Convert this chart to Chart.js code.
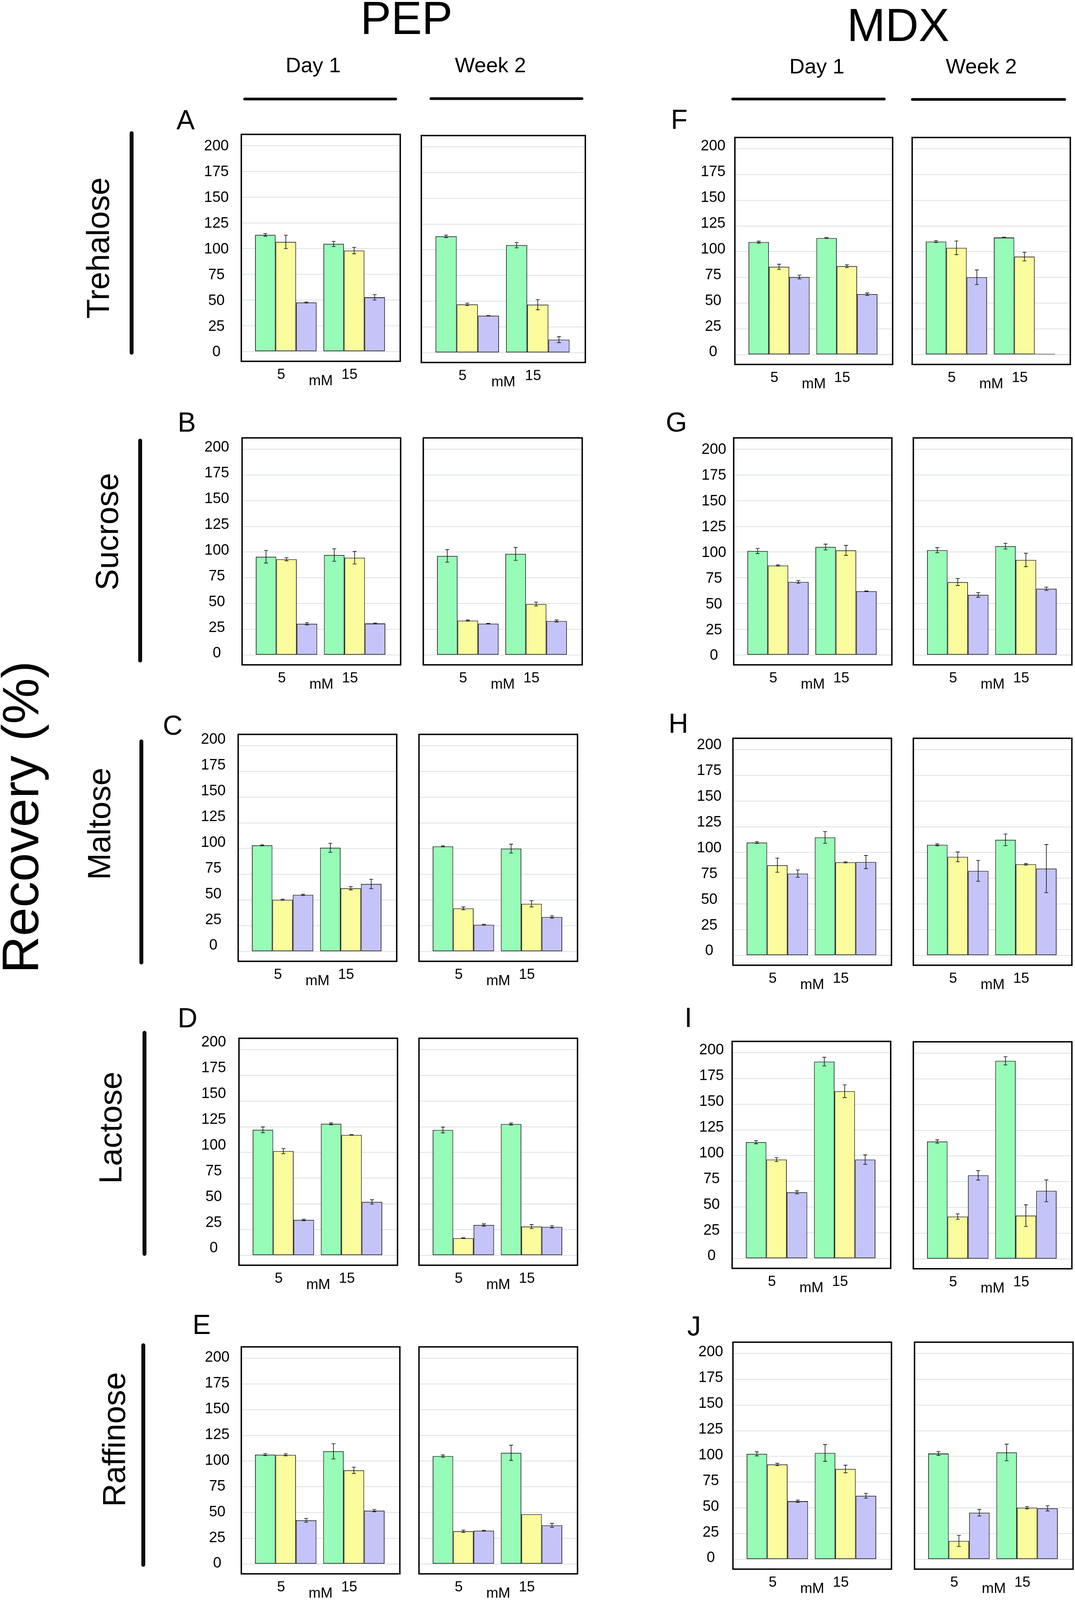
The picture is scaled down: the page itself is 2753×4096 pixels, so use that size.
<!DOCTYPE html>
<html>
<head>
<meta charset="utf-8">
<script src="https://cdn.jsdelivr.net/npm/chart.js@4.4.1/dist/chart.umd.min.js"></script>
<style>
  html, body { margin: 0; padding: 0; background: #fff; }
  #page { position: relative; width: 2753px; height: 4096px; overflow: hidden; background: #fff;
          font-family: "Liberation Sans", Arial, sans-serif; color: #000; }
  .txt { position: absolute; white-space: nowrap; line-height: 1; }
  .rule { position: absolute; background: #0b0b0b; border-radius: 5px; }
  canvas { position: absolute; }
</style>
</head>
<body>
<div id="page"></div>
<script>
// ---- data ----
const concentrations = ['5', '15'];
const yTicks = [0, 25, 50, 75, 100, 125, 150, 175, 200];
const sugars = ['Trehalose', 'Sucrose', 'Maltose', 'Lactose', 'Raffinose'];
const columnTitles = ['PEP', 'MDX'];
const timepoints = ['Day 1', 'Week 2'];
const panelLetters = ['A', 'B', 'C', 'D', 'E', 'F', 'G', 'H', 'I', 'J'];
const yAxisTitle = 'Recovery (%)';
const unitLabel = 'mM';

// three series per panel, each as [5 mM, 15 mM]
const pepTreDay1 = [[113.4, 104.6], [106.5, 98.1], [47.7, 52.7]];
const pepTreDay1Err = [[1.3, 2.5], [6.5, 3.1], [0.5, 2.6]];
const pepTreWeek2 = [[113.1, 104.5], [47.0, 46.7], [35.9, 12.7]];
const pepTreWeek2Err = [[1.2, 2.6], [1.2, 4.9], [0.2, 2.9]];
const mdxTreDay1 = [[109.4, 113.3], [85.4, 86.0], [75.4, 58.8]];
const mdxTreDay1Err = [[0.9, 0.4], [2.5, 1.4], [1.8, 1.2]];
const mdxTreWeek2 = [[109.9, 113.8], [103.8, 95.3], [75.2, 0.7]];
const mdxTreWeek2Err = [[0.9, 0.4], [6.6, 4.2], [7.1, 0]];

const pepSucDay1 = [[95.5, 97.2], [93.1, 94.6], [30.4, 30.7]];
const pepSucDay1Err = [[6.1, 6.1], [1.5, 6.1], [1.1, 0.5]];
const pepSucWeek2 = [[96.3, 98.3], [33.5, 49.5], [30.5, 33.1]];
const pepSucWeek2Err = [[6.1, 6.3], [0.6, 1.9], [0.3, 1.0]];
const mdxSucDay1 = [[101.1, 105.0], [87.0, 101.7], [71.1, 62.0]];
const mdxSucDay1Err = [[2.5, 2.8], [0.6, 4.9], [1.3, 0.3]];
const mdxSucWeek2 = [[101.9, 105.8], [70.9, 92.4], [58.5, 64.4]];
const mdxSucWeek2Err = [[2.5, 2.8], [3.4, 6.5], [2.3, 1.6]];

const pepMalDay1 = [[103.2, 100.8], [50.3, 61.5], [55.1, 65.7]];
const pepMalDay1Err = [[0.5, 4.3], [0.5, 1.6], [0.6, 4.6]];
const pepMalWeek2 = [[102.2, 100.0], [41.9, 46.4], [26.0, 33.6]];
const pepMalWeek2Err = [[0.5, 4.3], [1.4, 3.0], [0.4, 1.1]];
const mdxMalDay1 = [[109.7, 114.7], [87.7, 90.5], [79.5, 90.8]];
const mdxMalDay1Err = [[0.9, 5.7], [6.9, 0.5], [3.5, 6.4]];
const mdxMalWeek2 = [[107.5, 112.3], [95.8, 88.6], [82.2, 84.4]];
const mdxMalWeek2Err = [[0.9, 5.6], [4.7, 0.7], [10.2, 23.4]];

const pepLacDay1 = [[122.1, 127.9], [101.4, 117.1], [34.5, 52.0]];
const pepLacDay1Err = [[2.8, 0.9], [2.5, 0.3], [0.7, 2.1]];
const pepLacWeek2 = [[121.9, 127.7], [16.8, 28.1], [29.6, 27.8]];
const pepLacWeek2Err = [[2.8, 0.9], [0.3, 1.9], [1.1, 1.1]];
const mdxLacDay1 = [[113.1, 191.4], [96.2, 162.6], [64.4, 96.2]];
const mdxLacDay1Err = [[1.6, 4.2], [1.9, 6.2], [1.5, 4.6]];
const mdxLacWeek2 = [[114.1, 192.5], [41.2, 42.1], [81.3, 66.2]];
const mdxLacWeek2Err = [[1.6, 4.0], [2.6, 10.5], [4.6, 10.6]];

const pepRafDay1 = [[106.3, 109.6], [106.1, 91.1], [42.5, 51.9]];
const pepRafDay1Err = [[1.0, 7.4], [1.0, 3.1], [1.8, 1.1]];
const pepRafWeek2 = [[104.9, 108.1], [31.9, 48.4], [32.4, 37.7]];
const pepRafWeek2Err = [[1.1, 7.4], [1.1, 0], [0.4, 1.9]];
const mdxRafDay1 = [[102.5, 103.4], [92.2, 87.8], [56.5, 61.8]];
const mdxRafDay1Err = [[2.0, 8.2], [1.1, 3.7], [1.1, 2.3]];
const mdxRafWeek2 = [[102.8, 103.9], [17.9, 50.2], [45.3, 49.6]];
const mdxRafWeek2Err = [[1.8, 8.1], [5.4, 1.1], [3.2, 2.5]];

// ---- layout ----
const page = document.getElementById('page');
const BASE = 0.8465; // baseline position inside a line-height:1 box (Liberation Sans)

function text(str, size, x, baseline, align) {
  const d = document.createElement('div');
  d.className = 'txt';
  d.textContent = str;
  d.style.fontSize = size + 'px';
  d.style.left = x + 'px';
  d.style.top = (baseline - BASE * size) + 'px';
  if (align === 'center') d.style.transform = 'translateX(-50%)';
  page.appendChild(d);
}
function vtext(str, size, baselineX, centerY) {
  const d = document.createElement('div');
  d.className = 'txt';
  d.textContent = str;
  d.style.fontSize = size + 'px';
  d.style.left = (baselineX - BASE * size) + 'px';
  d.style.top = centerY + 'px';
  d.style.transformOrigin = '0 0';
  d.style.transform = 'rotate(-90deg) translateX(-50%)';
  page.appendChild(d);
}
function rule(x, y, w, h) {
  const d = document.createElement('div');
  d.className = 'rule';
  Object.assign(d.style, { left: x + 'px', top: y + 'px', width: w + 'px', height: h + 'px' });
  page.appendChild(d);
}

// column titles and time points
text(columnTitles[0], 118, 1041, 87, 'center');
text(columnTitles[1], 118, 2300, 105, 'center');
text(timepoints[0], 54, 802, 185, 'center');
text(timepoints[1], 54, 1256, 185, 'center');
text(timepoints[0], 54, 2092, 188, 'center');
text(timepoints[1], 54, 2513, 188, 'center');
rule(623, 250, 394, 7);
rule(1100, 249, 394, 7);
rule(1873, 250, 395, 7);
rule(2333, 251, 397, 7);

// row labels
vtext(yAxisTitle, 132, 99, 2092);
const sugarPos = [[279, 635], [302, 1361], [282, 2109], [311, 2887], [320, 3685]];
const barPos = [[337, 336, 908], [359, 1123, 1696], [362, 1893, 2469], [370, 2639, 3215], [367, 3439, 4011]];
sugars.forEach((s, i) => {
  vtext(s, 82, sugarPos[i][0], sugarPos[i][1]);
  rule(barPos[i][0] - 5, barPos[i][1], 10, barPos[i][2] - barPos[i][1]);
});

const letterPos = [[452, 331], [455, 1105], [417, 1881], [455, 2630], [493, 3415],
                   [1718, 330], [1705, 1105], [1712, 1876], [1753, 2629], [1760, 3419]];
panelLetters.forEach((l, i) => text(l, 70, letterPos[i][0], letterPos[i][1]));

// ---- charts ----
const seriesColors = ['#97fcb8', '#fafc9e', '#c5c4f8'];
const GROUP_FIRST = 0.28, GROUP_STEP = 0.43;
const X_MIN = -GROUP_FIRST / GROUP_STEP, X_MAX = (1 - GROUP_FIRST) / GROUP_STEP;
const Y_MIN = -9.5, Y_MAX = 211;
const EDGE = 4, TOP_PAD = 30, AXIS_W = 100, X_AXIS_H = 80;

const panels = [
  { values: pepTreDay1, errors: pepTreDay1Err, box: [618, 344, 407, 581], ticks: { pad: 32, shift: 2 } },
  { values: pepTreWeek2, errors: pepTreWeek2Err, box: [1079, 347, 420, 581] },
  { values: mdxTreDay1, errors: mdxTreDay1Err, box: [1882, 352, 404, 581], ticks: { pad: 24, shift: -6 } },
  { values: mdxTreWeek2, errors: mdxTreWeek2Err, box: [2336, 352, 405, 581] },

  { values: pepSucDay1, errors: pepSucDay1Err, box: [620, 1121, 406, 581], ticks: { pad: 33, shift: -4 } },
  { values: pepSucWeek2, errors: pepSucWeek2Err, box: [1084, 1121, 407, 581] },
  { values: mdxSucDay1, errors: mdxSucDay1Err, box: [1879, 1121, 405, 581], ticks: { pad: 19, shift: 2 } },
  { values: mdxSucWeek2, errors: mdxSucWeek2Err, box: [2339, 1121, 406, 581] },

  { values: pepMalDay1, errors: pepMalDay1Err, box: [610, 1880, 406, 581], ticks: { pad: 32, shift: -15 } },
  { values: pepMalWeek2, errors: pepMalWeek2Err, box: [1073, 1880, 406, 581] },
  { values: mdxMalDay1, errors: mdxMalDay1Err, box: [1877, 1890, 406, 581], ticks: { pad: 29, shift: -11 } },
  { values: mdxMalWeek2, errors: mdxMalWeek2Err, box: [2339, 1890, 406, 581] },

  { values: pepLacDay1, errors: pepLacDay1Err, box: [612, 2658, 406, 581], ticks: { pad: 33, shift: -18 } },
  { values: pepLacWeek2, errors: pepLacWeek2Err, box: [1073, 2658, 406, 581] },
  { values: mdxLacDay1, errors: mdxLacDay1Err, box: [1875, 2666, 406, 581], ticks: { pad: 21, shift: -6 } },
  { values: mdxLacWeek2, errors: mdxLacWeek2Err, box: [2339, 2667, 406, 581] },

  { values: pepRafDay1, errors: pepRafDay1Err, box: [618, 3448, 406, 581], ticks: { pad: 30, shift: -1 } },
  { values: pepRafWeek2, errors: pepRafWeek2Err, box: [1073, 3448, 406, 581] },
  { values: mdxRafDay1, errors: mdxRafDay1Err, box: [1877, 3436, 406, 581], ticks: { pad: 25, shift: -3 } },
  { values: mdxRafWeek2, errors: mdxRafWeek2Err, box: [2342, 3436, 406, 581] },
];

const errorBars = {
  id: 'errorBars',
  afterDatasetsDraw(chart) {
    const { ctx } = chart;
    const y = chart.scales.y;
    ctx.save();
    ctx.strokeStyle = '#111';
    ctx.lineWidth = 1.6;
    chart.data.datasets.forEach((ds, i) => {
      chart.getDatasetMeta(i).data.forEach((bar, j) => {
        const e = ds.errors[j];
        if (!e) return;
        const v = ds.data[j].y;
        const top = y.getPixelForValue(v + e);
        const bot = y.getPixelForValue(v - e);
        ctx.beginPath();
        ctx.moveTo(bar.x, top); ctx.lineTo(bar.x, bot);
        ctx.moveTo(bar.x - 5, top); ctx.lineTo(bar.x + 5, top);
        ctx.moveTo(bar.x - 5, bot); ctx.lineTo(bar.x + 5, bot);
        ctx.stroke();
      });
    });
    ctx.restore();
  }
};

const frame = {
  id: 'frame',
  afterDraw(chart) {
    const { ctx, chartArea: a } = chart;
    ctx.save();
    ctx.lineWidth = 3.6;
    ctx.strokeStyle = '#000';
    ctx.strokeRect(a.left, a.top, a.right - a.left, a.bottom - a.top);
    ctx.restore();
  }
};

Chart.defaults.font.family = '"Liberation Sans", Arial, sans-serif';
Chart.defaults.color = '#000';

panels.forEach((p) => {
  const [L, T, W, H] = p.box;
  const day1 = !!p.ticks;
  const leftW = day1 ? AXIS_W : EDGE;
  const canvas = document.createElement('canvas');
  canvas.width = leftW + W + EDGE;
  canvas.height = TOP_PAD + H + X_AXIS_H;
  canvas.style.left = (L - leftW) + 'px';
  canvas.style.top = (T - TOP_PAD) + 'px';
  page.appendChild(canvas);

  new Chart(canvas, {
    type: 'bar',
    data: {
      datasets: p.values.map((series, k) => ({
        data: series.map((v, j) => ({ x: j, y: v })),
        errors: p.errors[k],
        backgroundColor: seriesColors[k],
        borderColor: '#1a1a1a',
        borderWidth: 1.8,
        borderSkipped: false,
        categoryPercentage: 0.9,
        barPercentage: 1,
      })),
    },
    options: {
      responsive: false,
      animation: false,
      devicePixelRatio: 1,
      layout: { padding: { top: TOP_PAD, right: EDGE, left: day1 ? 0 : EDGE, bottom: 0 } },
      plugins: { legend: { display: false }, tooltip: { enabled: false } },
      scales: {
        x: {
          type: 'linear',
          min: X_MIN,
          max: X_MAX,
          offset: false,
          grid: { display: false, drawTicks: false },
          border: { display: false },
          afterBuildTicks: (ax) => { ax.ticks = concentrations.map((c, j) => ({ value: j })); },
          ticks: {
            callback: (v) => concentrations[v],
            font: { size: 37 },
            padding: 13,
            labelOffset: -12,
            maxRotation: 0,
            autoSkip: false,
          },
          title: { display: true, text: unitLabel, font: { size: 37 }, padding: { top: 0, bottom: 7 } },
          afterFit: (ax) => {
            ax.height = X_AXIS_H;
            ax.paddingLeft = 0;
            ax.paddingRight = 0;
          },
        },
        y: {
          min: Y_MIN,
          max: Y_MAX,
          afterBuildTicks: (ax) => { ax.ticks = yTicks.map((v) => ({ value: v })); },
          grid: {
            color: '#dde2e2',
            lineWidth: 2,
            drawTicks: day1,
            tickLength: day1 ? p.ticks.pad : 0,
            tickColor: 'rgba(0,0,0,0)',
          },
          border: { display: false },
          ticks: {
            display: day1,
            font: { size: 38 },
            crossAlign: 'center',
            padding: 0,
            labelOffset: day1 ? p.ticks.shift : 0,
          },
          afterFit: (ax) => {
            ax.width = day1 ? AXIS_W : 0;
            ax.paddingTop = 0;
            ax.paddingBottom = 0;
          },
        },
      },
    },
    plugins: [errorBars, frame],
  });
});
</script>
</body>
</html>
